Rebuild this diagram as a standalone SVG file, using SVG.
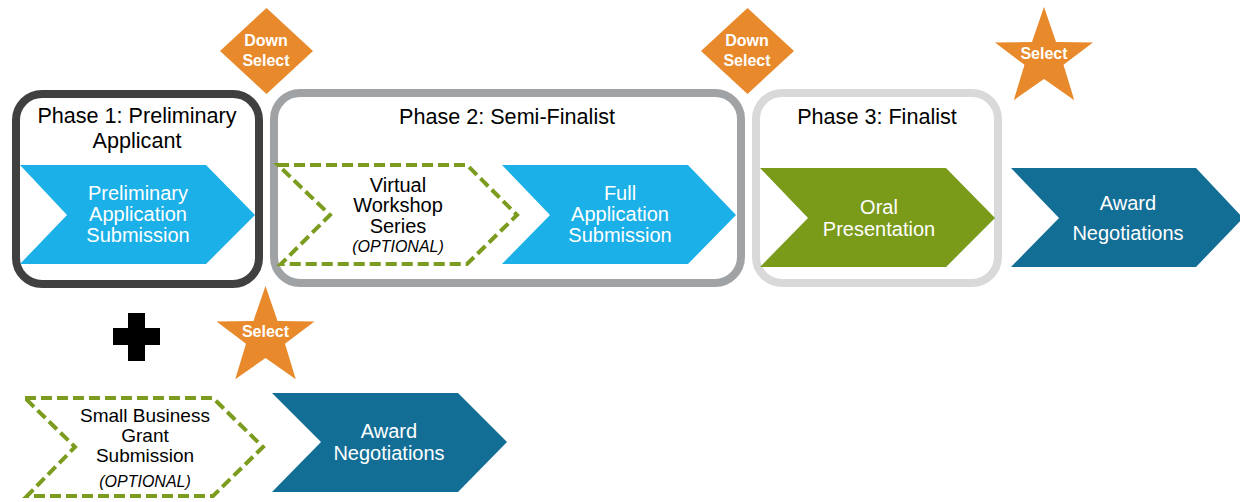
<svg xmlns="http://www.w3.org/2000/svg" xmlns:xlink="http://www.w3.org/1999/xlink" width="1240" height="502" viewBox="0 0 1240 502">
<style>
text{font-family:"Liberation Sans",Arial,sans-serif;text-anchor:middle}
.title{font-size:21.6px;fill:#000}
.wt{font-size:20px;fill:#fff}
.bk{font-size:20px;fill:#000}
.opt{font-size:16px;font-style:italic;fill:#000}
.badge{font-size:16px;font-weight:bold;fill:#fff}
.phase{fill:none;stroke-width:8}
.dash{fill:none;stroke:#7B9C1E;stroke-width:4;stroke-dasharray:11 5}
.orange{fill:#E8892B}
</style>
<defs>
<polygon id="star" points="0,-51.5 12.05,-16.58 48.98,-15.91 19.5,6.33 30.27,41.66 0,20.5 -30.27,41.66 -19.5,6.33 -48.98,-15.91 -12.05,-16.58"/>
<polygon id="diamond" points="0,-43 46.5,0 0,43 -46.5,0"/>
</defs>
<rect width="1240" height="502" fill="#fff"/>

<g id="phase1">
<rect class="phase" x="16" y="94" width="243" height="190" rx="26" stroke="#404040"/>
<text class="title" x="137" y="123">Phase 1: Preliminary</text>
<text class="title" x="137" y="148">Applicant</text>
</g>
<g id="prelim">
<polygon points="20,165 206,165 255,215 206,264 20,264 67,215" fill="#1BB0E7"/>
<text class="wt" x="138" y="200">Preliminary</text>
<text class="wt" x="138" y="221">Application</text>
<text class="wt" x="138" y="242">Submission</text>
</g>
<g id="down1">
<use xlink:href="#diamond" href="#diamond" class="orange" transform="translate(266.5,51)"/>
<text class="badge" x="266" y="46">Down</text>
<text class="badge" x="266" y="66">Select</text>
</g>

<g id="phase2">
<rect class="phase" x="274" y="93" width="467" height="190" rx="26" stroke="#A0A3A6"/>
<text class="title" x="507" y="124">Phase 2: Semi-Finalist</text>
</g>
<g id="workshop">
<polygon class="dash" points="278,165 467,165 517,215 467,264 281,264 330,215"/>
<text class="bk" x="398" y="192">Virtual</text>
<text class="bk" x="398" y="212">Workshop</text>
<text class="bk" x="398" y="233">Series</text>
<text class="opt" x="398" y="252">(OPTIONAL)</text>
</g>
<g id="full">
<polygon points="502,165 688,165 736,215 688,264 502,264 550,215" fill="#1BB0E7"/>
<text class="wt" x="620" y="200">Full</text>
<text class="wt" x="620" y="221">Application</text>
<text class="wt" x="620" y="242">Submission</text>
</g>
<g id="down2">
<use xlink:href="#diamond" href="#diamond" class="orange" transform="translate(747.5,51)"/>
<text class="badge" x="747" y="46">Down</text>
<text class="badge" x="747" y="66">Select</text>
</g>

<g id="phase3">
<rect class="phase" x="756" y="93" width="242" height="190" rx="26" stroke="#D9D9D9"/>
<text class="title" x="877" y="124">Phase 3: Finalist</text>
</g>
<g id="oral">
<polygon points="760,168 946,168 995,218 946,267 760,267 808,218" fill="#7A9A1A"/>
<text class="wt" x="879" y="214">Oral</text>
<text class="wt" x="879" y="236">Presentation</text>
</g>
<g id="select1">
<use xlink:href="#star" href="#star" class="orange" transform="translate(1044,58.5)"/>
<text class="badge" x="1044" y="59">Select</text>
</g>
<g id="award1">
<polygon points="1011,168 1196,168 1243,218 1196,267 1011,267 1059,218" fill="#136E96"/>
<text class="wt" x="1128" y="210">Award</text>
<text class="wt" x="1128" y="240">Negotiations</text>
</g>

<g id="plus">
<rect x="113" y="328" width="47" height="17" fill="#000"/>
<rect x="128" y="313" width="17" height="48" fill="#000"/>
</g>
<g id="select2">
<use xlink:href="#star" href="#star" class="orange" transform="translate(265.5,337.5)"/>
<text class="badge" x="265.5" y="337">Select</text>
</g>
<g id="smallbiz">
<polygon class="dash" points="25,398 213,398 263,447 213,496 27,496 75,447"/>
<text class="bk" x="145" y="422" style="font-size:19px">Small Business</text>
<text class="bk" x="145" y="442" style="font-size:19px">Grant</text>
<text class="bk" x="145" y="462" style="font-size:19px">Submission</text>
<text class="opt" x="145" y="487">(OPTIONAL)</text>
</g>
<g id="award2">
<polygon points="272,393 458,393 507,442 458,492 272,492 321,442" fill="#136E96"/>
<text class="wt" x="389" y="438">Award</text>
<text class="wt" x="389" y="460">Negotiations</text>
</g>
<g id="connectors"></g>
</svg>
